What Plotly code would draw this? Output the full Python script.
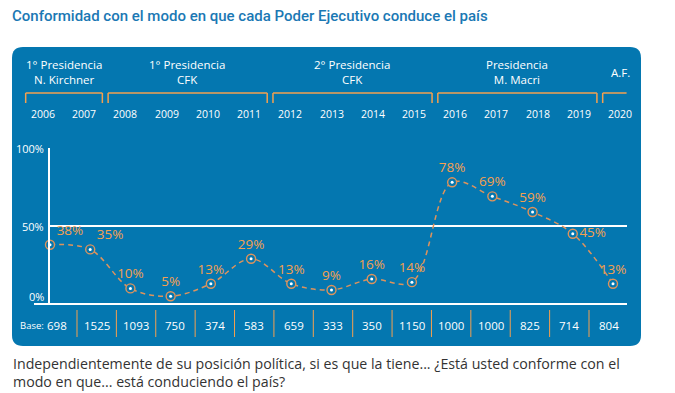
import plotly.graph_objects as go

# ---------------- data ----------------
years = list(range(2006, 2021))
values = [38, 35, 10, 5, 13, 29, 13, 9, 16, 14, 78, 69, 59, 45, 13]
bases = [698, 1525, 1093, 750, 374, 583, 659, 333, 350, 1150, 1000, 1000, 825, 714, 804]
period_labels = ["1° Presidencia<br>N. Kirchner", "1° Presidencia<br>CFK",
                 "2° Presidencia<br>CFK", "Presidencia<br>M. Macri", "A.F."]
period_start = [2006, 2008, 2012, 2016, 2020]
period_end = [2007, 2011, 2015, 2019, 2020]
y_ticks = [0, 50, 100]

title = "Conformidad con el modo en que cada Poder Ejecutivo conduce el país"
footer = ("Independientemente de su posición política, si es que la tiene... ¿Está usted conforme con el<br>"
          "modo en que... está conduciendo el país?")

# ---------------- styles ----------------
# the page body has an 8px margin, so the figure is drawn 8px in from the window edge
OFF = 8
W, H = 675 - OFF, 393 - OFF
PANEL = "#0477B0"
ORANGE = "#F5A04F"
LINE_OR = "#DE935C"
WHITE = "#FFFFFF"
FONT = "Open Sans"

def px(x):
    return (x - OFF) / W

def py(y):
    return 1 - (y - OFF) / H

def year_range(first_px, step):
    return [years[0] - (first_px - OFF) / step, years[0] + (W + OFF - first_px) / step]

label_pos = ["top right", "top right", "top center", "top center", "top center", "top center",
             "top center", "top center", "top center", "top center", "top center", "top center",
             "top center", "middle right", "top center"]

fig = go.Figure()

fig.add_trace(go.Scatter(
    x=years, y=values, mode="lines",
    line=dict(color=LINE_OR, width=1.5, dash="5px,4px", shape="spline", smoothing=1),
    hoverinfo="skip", showlegend=False, cliponaxis=False))
fig.add_trace(go.Scatter(
    x=years, y=values, mode="markers+text",
    marker=dict(size=9, color=PANEL, line=dict(color=LINE_OR, width=1.4)),
    text=[f"{v}%" for v in values], textposition=label_pos,
    textfont=dict(family=FONT, size=13.5, color=ORANGE),
    hoverinfo="skip", showlegend=False, cliponaxis=False))
fig.add_trace(go.Scatter(
    x=years, y=values, mode="markers", marker=dict(size=3, color=WHITE),
    hoverinfo="skip", showlegend=False, cliponaxis=False))
# helper traces so the label axes exist
fig.add_trace(go.Scatter(x=[years[0]], y=[None], xaxis="x2", yaxis="y2", showlegend=False, hoverinfo="skip"))
fig.add_trace(go.Scatter(x=[years[0]], y=[None], xaxis="x3", yaxis="y3", showlegend=False, hoverinfo="skip"))

shapes = []
# rounded panel
x0, x1, yt, yb = px(12), px(641), py(47), py(346)
rx, ry = 11 / W, 11 / H
path = (f"M {x0+rx},{yt} L {x1-rx},{yt} Q {x1},{yt} {x1},{yt-ry} L {x1},{yb+ry} "
        f"Q {x1},{yb} {x1-rx},{yb} L {x0+rx},{yb} Q {x0},{yb} {x0},{yb+ry} "
        f"L {x0},{yt-ry} Q {x0},{yt} {x0+rx},{yt} Z")
shapes.append(dict(type="path", xref="paper", yref="paper", path=path,
                   fillcolor=PANEL, line=dict(width=0), layer="below"))
# bottom axis line
shapes.append(dict(type="line", xref="paper", yref="paper", x0=px(34), x1=px(627), y0=py(304), y1=py(304),
                   line=dict(color=WHITE, width=2)))
# period brackets
for s, e, closed in zip(period_start, period_end, [True, True, True, True, False]):
    left = s - 0.42
    right = e + 0.44 if closed else e + 0.16
    top, bot = py(93), py(103)
    shapes.append(dict(type="line", xref="x2", yref="paper", x0=left, x1=right, y0=top, y1=top,
                       line=dict(color=ORANGE, width=1.5)))
    shapes.append(dict(type="line", xref="x2", yref="paper", x0=left, x1=left, y0=top, y1=bot,
                       line=dict(color=ORANGE, width=1.5)))
    if closed:
        shapes.append(dict(type="line", xref="x2", yref="paper", x0=right, x1=right, y0=top, y1=bot,
                           line=dict(color=ORANGE, width=1.5)))
# base separators
for yv in years[:-1]:
    shapes.append(dict(type="line", xref="x3", yref="paper", x0=yv + 0.5, x1=yv + 0.5,
                       y0=py(310), y1=py(337), line=dict(color=ORANGE, width=1)))

ann = []
ann.append(dict(text=title, xref="paper", yref="paper", x=px(10), y=py(16), xanchor="left", yanchor="middle",
                showarrow=False, font=dict(family="Roboto", size=15, weight=500, color="#1A78B4")))
ann.append(dict(text=footer, xref="paper", yref="paper", x=px(11), y=py(372), xanchor="left", yanchor="middle",
                align="left", showarrow=False, font=dict(family=FONT, size=14.2, color="#333333")))
for lab, s, e in zip(period_labels, period_start, period_end):
    ann.append(dict(text=lab, xref="x2", yref="paper", x=(s + e) / 2, y=py(72), xanchor="center",
                    yanchor="middle", showarrow=False, font=dict(family=FONT, size=11.5, color=WHITE)))
for yv in years:
    ann.append(dict(text=str(yv), xref="x2", yref="paper", x=yv, y=py(114), xanchor="center",
                    yanchor="middle", showarrow=False, font=dict(family=FONT, size=10.5, color=WHITE)))
for yv, b in zip(years, bases):
    ann.append(dict(text=str(b), xref="x3", yref="paper", x=yv, y=py(325), xanchor="center",
                    yanchor="middle", showarrow=False, font=dict(family=FONT, size=11.5, color=WHITE)))
ann.append(dict(text="Base:", xref="x3", yref="paper", x=years[0], y=py(325), xanchor="right", xshift=-11,
                yanchor="middle", showarrow=False, font=dict(family=FONT, size=9.5, color=WHITE)))
for t, shift in zip(y_ticks, [8, 0, 0]):
    ann.append(dict(text=f"{t}%", xref="x", yref="y", x=years[0], y=t, xanchor="right", xshift=-4,
                    yshift=shift, yanchor="middle", showarrow=False,
                    font=dict(family=FONT, size=11, color=WHITE)))

hidden = dict(visible=False, fixedrange=True)
fig.update_layout(
    width=W, height=H, margin=dict(l=0, r=0, t=0, b=0),
    paper_bgcolor="white", plot_bgcolor="rgba(0,0,0,0)",
    shapes=shapes, annotations=ann, showlegend=False,
    xaxis=dict(domain=[px(50), px(627)], range=[years[0], years[0] + (627 - 50) / 40.214],
               showgrid=False, zeroline=False, showticklabels=False, showline=False, fixedrange=True),
    yaxis=dict(domain=[py(304), py(148)], range=[0, 100], tickvals=[50], showticklabels=False,
               showgrid=True, gridcolor=WHITE, gridwidth=2, zeroline=False,
               showline=True, linecolor=WHITE, linewidth=2, ticks="", fixedrange=True),
    xaxis2=dict(domain=[0, 1], range=year_range(43, 41.214), anchor="y2", **hidden),
    yaxis2=dict(domain=[0, 1], range=[0, 1], anchor="x2", **hidden),
    xaxis3=dict(domain=[0, 1], range=year_range(57.3, 39.385), anchor="y3", **hidden),
    yaxis3=dict(domain=[0, 1], range=[0, 1], anchor="x3", **hidden),
)

fig.write_html("out.html")
